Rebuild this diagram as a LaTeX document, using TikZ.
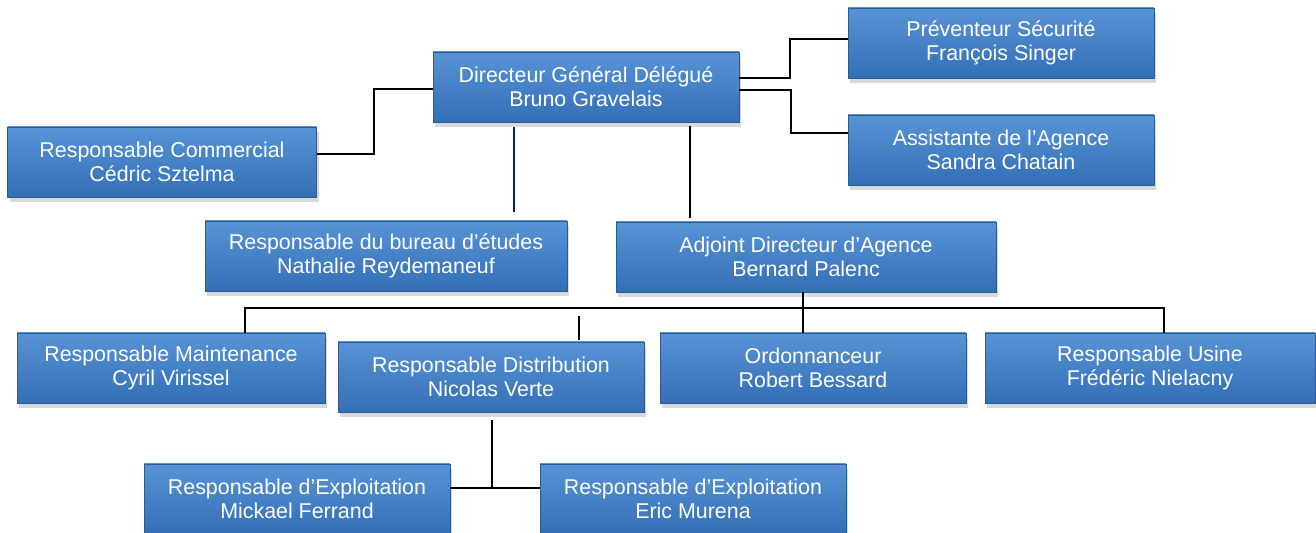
\documentclass[tikz,border=0pt]{standalone}
\usepackage{fontspec}
\setmainfont{Liberation Sans}
\usetikzlibrary{calc,shadows}

\definecolor{boxtop}{HTML}{5893D6}
\definecolor{boxmid}{HTML}{3D7DC5}
\definecolor{boxbot}{HTML}{336FB6}
\definecolor{boxline}{HTML}{2A5A92}
\definecolor{navyline}{HTML}{0E1E5C}

\tikzset{
    poste/.style={rectangle, draw=boxline, line width=.4pt,
        top color=boxtop, middle color=boxmid, bottom color=boxbot,
        minimum width=153pt, minimum height=35pt, inner sep=0pt,
        align=center, text=white, font=\fontsize{10.7}{12.2}\selectfont,
        drop shadow={shadow xshift=1pt, shadow yshift=-2.5pt, opacity=.3}},
    lien/.style={line width=1pt, black}
}

\begin{document}
\begin{tikzpicture}[x=.5pt, y=-.5pt]
        \useasboundingbox (0,0) rectangle (1316,533);

        % direction
        \node[poste] (dg) at (586, 87) {Directeur Général Délégué\\Bruno Gravelais};
        \node[poste] (prev) at (1001, 43) {Préventeur Sécurité\\François Singer};
        \node[poste] (assist) at (1001, 150) {Assistante de l’Agence\\Sandra Chatain};
        \node[poste, minimum width=154.5pt] (comm) at (162, 162) {Responsable Commercial\\Cédric Sztelma};

        % second level
        \node[poste, minimum width=181pt] (be) at (386, 256) {Responsable du bureau d’études\\Nathalie Reydemaneuf};
        \node[poste, minimum width=190pt] (adj) at (806, 257) {Adjoint Directeur d’Agence\\Bernard Palenc};

        % services
        \node[poste, minimum width=154pt] (maint) at (171, 368) {Responsable Maintenance\\Cyril Virissel};
        \node[poste] (distrib) at (491, 377) {Responsable Distribution\\Nicolas Verte};
        \node[poste] (ordo) at (813, 368) {Ordonnanceur\\Robert Bessard};
        \node[poste, minimum width=165pt] (usine) at (1150, 368) {Responsable Usine\\Frédéric Nielacny};

        % exploitation
        \node[poste] (explA) at (297, 499) {Responsable d’Exploitation\\Mickael Ferrand};
        \node[poste] (explB) at (693, 499) {Responsable d’Exploitation\\Eric Murena};

        % links around dg
        \draw[lien] ($(comm.east)+(0,-8)$) -- ++(57,0) |- ($(dg.west)+(0,2)$);
        \draw[lien] ($(dg.east)+(0,-9)$) -- ++(51,0) |- ($(prev.west)+(0,-4)$);
        \draw[lien] ($(dg.east)+(0,3)$) -- ++(52,0) |- ($(assist.west)+(0,-17)$);
        \draw[lien, navyline] ($(dg.south)+(-72,5)$) -- ($(be.north)+(128,-9)$);
        \draw[lien] ($(dg.south)+(104,4)$) -- ($(adj.north)+(-116,-4)$);

        % links under adj
        \draw[lien] ($(maint.north)+(74,0)$) |- ($(adj.south)+(0,16)$) -| ($(usine.north)+(14,0)$);
        \draw[lien] ($(adj.south)+(-3,0)$) -- ($(ordo.north)+(-10,0)$);
        \draw[lien] ($(distrib.north)+(88,-2)$) -- ++(0,-24);

        % links under distrib
        \draw[lien] ($(distrib.south)+(1,8)$) -- ++(0,68);
        \draw[lien] ($(explA.east)+(0,-11)$) -- ($(explB.west)+(0,-11)$);

    \end{tikzpicture}
\end{document}
